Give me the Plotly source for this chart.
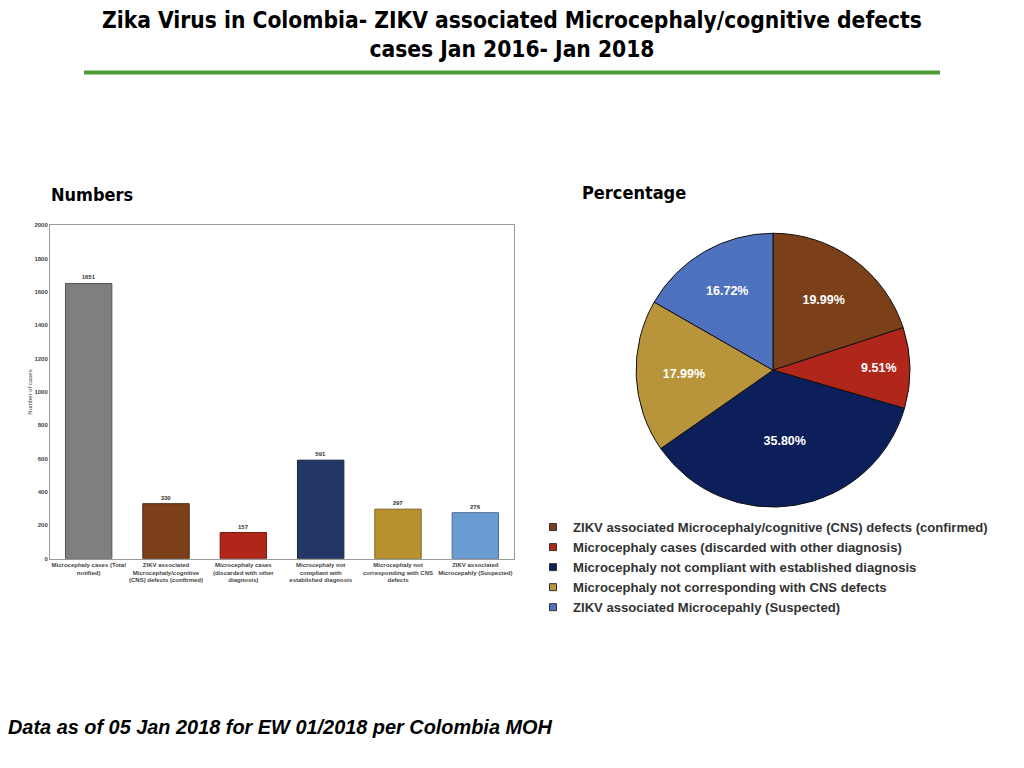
import plotly.graph_objects as go

bar_labels = [
    "Microcephaly cases (Total<br>notified)",
    "ZIKV associated<br>Microcephaly/cognitive<br>(CNS) defects (confirmed)",
    "Microcephaly cases<br>(discarded with other<br>diagnosis)",
    "Microcephaly not<br>compliant with<br>established diagnosis",
    "Microcephaly not<br>corresponding with CNS<br>defects",
    "ZIKV associated<br>Microcepahly (Suspected)",
]
bar_values = [1651, 330, 157, 591, 297, 276]
bar_colors = ["#7f7f7f", "#7b3f1a", "#b0261b", "#223764", "#b8922f", "#6a9bd1"]
bar_edges = ["#555555", "#4f2710", "#7a1a12", "#16233f", "#7e6420", "#4a6f99"]

pie_labels = [
    "ZIKV associated Microcephaly/cognitive (CNS) defects (confirmed)",
    "Microcephaly cases (discarded with other diagnosis)",
    "Microcephaly not compliant with established diagnosis",
    "Microcephaly not corresponding with CNS defects",
    "ZIKV associated Microcepahly (Suspected)",
]
pie_values = [330, 157, 591, 297, 276]
pie_colors = ["#7b3f1a", "#b0261b", "#0c1f5a", "#b8943a", "#4f72be"]

yticks = list(range(0, 2001, 200))

W, H = 1024, 768
OFF = 8  # page body margin
def px(x): return (x - OFF) / W
def py(y): return 1 - (y - OFF) / H

COND = "DejaVu Sans Condensed, Liberation Sans, sans-serif"
SANS = "Liberation Sans, Arial, sans-serif"

fig = go.Figure()
fig.add_trace(go.Bar(
    x=bar_labels, y=bar_values,
    marker=dict(color=bar_colors, line=dict(color=bar_edges, width=1)),
    width=0.6,
    text=[str(v) for v in bar_values], textposition="outside",
    textfont=dict(size=6, color="#333333", family=SANS, weight="bold"),
    cliponaxis=False, showlegend=False,
    xaxis="x", yaxis="y",
))
fig.add_trace(go.Pie(
    labels=pie_labels, values=pie_values,
    marker=dict(colors=pie_colors, line=dict(color="#111111", width=1)),
    sort=False, direction="clockwise", rotation=0,
    texttemplate="%{percent:.2%}", textposition="inside",
    insidetextfont=dict(color="white", size=12.5, family=SANS, weight="bold"),
    domain=dict(x=[px(635), px(911)], y=[py(508), py(232)]),
    showlegend=False,
))
# legend entries for the pie slices (small square keys)
for lab, col in zip(pie_labels, pie_colors):
    fig.add_trace(go.Scatter(
        x=[None], y=[None], mode="markers", name=lab,
        marker=dict(symbol="square", size=7, color=col, line=dict(color="#333333", width=1)),
        showlegend=True, hoverinfo="skip",
    ))

fig.update_layout(
    width=W, height=H,
    margin=dict(l=0, r=0, t=0, b=0),
    paper_bgcolor="white", plot_bgcolor="white",
    font=dict(family=SANS, color="#333333"),
    xaxis=dict(domain=[px(50), px(514)], showline=True, linecolor="#999999", mirror=True,
               tickfont=dict(size=6, color="#444444", family=SANS, weight="bold"),
               tickangle=0, showgrid=False, ticks=""),
    yaxis=dict(domain=[py(560), py(224)], range=[0, 2000], tickvals=yticks,
               showline=True, linecolor="#999999", mirror=True, showgrid=False,
               tickfont=dict(size=6, color="#444444", weight="bold"),
               title=dict(text="Number of cases", font=dict(size=6, color="#444444"), standoff=1),
               zeroline=False),
    legend=dict(x=px(533), y=py(513), xanchor="left", yanchor="top",
                font=dict(size=13.1, color="#333333", family=SANS, weight="bold"),
                itemwidth=30, tracegroupgap=0),
    shapes=[dict(type="line", xref="paper", yref="paper", x0=px(84), x1=px(940),
                 y0=py(70), y1=py(70), line=dict(color="#4a9a35", width=4))],
    annotations=[
        dict(text="<b>Zika Virus in Colombia- ZIKV associated Microcephaly/cognitive defects<br>cases Jan 2016- Jan 2018</b>",
             x=px(512), y=py(32), xref="paper", yref="paper", showarrow=False,
             xanchor="center", yanchor="middle",
             font=dict(size=22.6, color="black", family=COND), align="center"),
        dict(text="<b>Numbers</b>", x=px(49), y=py(193), xref="paper", yref="paper", xanchor="left",
             yanchor="middle",
             showarrow=False, font=dict(size=18, color="black", family=COND)),
        dict(text="<b>Percentage</b>", x=px(580), y=py(191), xref="paper", yref="paper", xanchor="left",
             yanchor="middle",
             showarrow=False, font=dict(size=18, color="black", family=COND)),
        dict(text="<b><i>Data as of 05 Jan 2018 for EW 01/2018 per Colombia MOH</i></b>",
             x=px(6), y=py(730), xref="paper", yref="paper", xanchor="left", yanchor="middle",
             showarrow=False, font=dict(size=19.9, color="black", family=SANS)),
    ],
)

fig.write_html("out.html")
